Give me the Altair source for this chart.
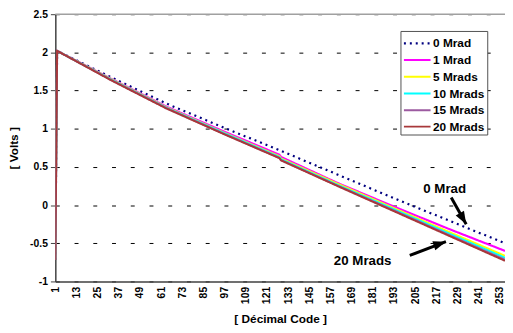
import altair as alt
import pandas as pd

FONT = "Arial, Liberation Sans, sans-serif"

codes = [1, 2, 33, 64, 65, 97, 128, 129, 161, 193, 225, 256]
series_names = ["0 Mrad", "1 Mrad", "5 Mrads", "10 Mrads", "15 Mrads", "20 Mrads"]
v0 = [-0.72, 2.02, 1.67, 1.33, 1.32, 1.01, 0.72, 0.71, 0.40, 0.09, -0.21, -0.50]
v1 = [-0.72, 2.02, 1.65, 1.29, 1.28, 0.96, 0.66, 0.63, 0.29, -0.02, -0.32, -0.60]
v5 = [-0.72, 2.02, 1.645, 1.28, 1.27, 0.945, 0.64, 0.61, 0.28, -0.04, -0.36, -0.665]
v10 = [-0.72, 2.02, 1.64, 1.275, 1.265, 0.94, 0.63, 0.60, 0.265, -0.055, -0.38, -0.69]
v15 = [-0.72, 2.02, 1.635, 1.27, 1.26, 0.93, 0.62, 0.59, 0.255, -0.07, -0.40, -0.715]
v20 = [-0.72, 2.02, 1.63, 1.265, 1.255, 0.925, 0.615, 0.585, 0.25, -0.08, -0.41, -0.73]
values = [v0, v1, v5, v10, v15, v20]

x_ticks = list(range(1, 254, 12))
y_ticks = [-1, -0.5, 0, 0.5, 1, 1.5, 2, 2.5]

# annotations
ann_text = ["0 Mrad", "20 Mrads"]
ann_x = [221.8, 175.3]
ann_y = [0.21, -0.73]
arrow_x = [225.5, 202.0]
arrow_y = [0.10, -0.66]
arrow_x2 = [234.0, 222.5]
arrow_y2 = [-0.25, -0.48]
arrow_angle = [150, 72]

colors = ["#000080", "#ff00ff", "#ffff00", "#00ffff", "#9c5aa0", "#a8383a"]
dashes = [[2, 4], [1, 0], [1, 0], [1, 0], [1, 0], [1, 0]]
widths = [2.2, 2.0, 1.2, 1.2, 1.2, 1.2]

rows = []
for s, vals in zip(series_names, values):
    for c, v in zip(codes, vals):
        rows.append({"series": s, "code": c, "volts": v, "order": series_names.index(s)})
df = pd.DataFrame(rows)

xscale = alt.Scale(domain=[1, 256], nice=False, zero=False)
yscale = alt.Scale(domain=[-1, 2.5], nice=False, zero=False)

x_axis = alt.Axis(
    values=x_ticks,
    title="[ Décimal Code ]",
    labelAngle=-90,
    labelAlign="right",
    labelBaseline="middle",
    labelOverlap=False,
    labelBound=False,
    labelFlush=False,
    ticks=False,
    grid=False,
    labelPadding=5,
    titlePadding=10,
    domainColor="#404040",
    domainWidth=1.5,
)
y_axis = alt.Axis(
    values=y_ticks,
    title="[ Volts ]",
    labelExpr="'' + datum.value",
    labelOverlap=False,
    labelBound=False,
    labelFlush=False,
    grid=True,
    gridDash=[4, 15],
    gridColor="#000000",
    gridWidth=1,
    tickSize=5,
    tickColor="#404040",
    labelPadding=3,
    titlePadding=9,
    domainColor="#404040",
    domainWidth=1.5,
)


def X(field):
    return alt.X(field, scale=xscale, axis=x_axis)


def Y(field):
    return alt.Y(field, scale=yscale, axis=y_axis)


top_border = alt.Chart(pd.DataFrame({"y": [2.5]})).mark_rule(
    color="#a0a0a0", strokeWidth=1.5
).encode(y=Y("y:Q"))

lines = alt.Chart(df).mark_line(clip=True).encode(
    x=X("code:Q"),
    y=Y("volts:Q"),
    color=alt.Color(
        "series:N",
        scale=alt.Scale(domain=series_names, range=colors),
        legend=alt.Legend(
            orient="none",
            legendX=350,
            legendY=17,
            title=None,
            symbolType="M-1,0 L2,0",
            symbolSize=324,
            symbolFillColor="transparent",
            labelFont=FONT,
            labelFontSize=12,
            labelFontWeight="bold",
            labelColor="#000000",
            fillColor="white",
            strokeColor="#505050",
            padding=2,
            rowPadding=0,
            labelOffset=10,
        ),
    ),
    strokeDash=alt.StrokeDash(
        "series:N", scale=alt.Scale(domain=series_names, range=dashes), legend=None
    ),
    strokeWidth=alt.StrokeWidth(
        "series:N", scale=alt.Scale(domain=series_names, range=widths), legend=None
    ),
    detail="series:N",
    order="order:Q",
)

ann_df = pd.DataFrame({"t": ann_text, "x": ann_x, "y": ann_y})
arr_df = pd.DataFrame(
    {"x": arrow_x, "y": arrow_y, "x2": arrow_x2, "y2": arrow_y2, "a": arrow_angle}
)

texts = alt.Chart(ann_df).mark_text(
    font=FONT, fontSize=13.5, fontWeight="bold", color="black"
).encode(x=X("x:Q"), y=Y("y:Q"), text="t:N")

shafts = alt.Chart(arr_df).mark_rule(color="black", strokeWidth=3).encode(
    x=X("x:Q"), y=Y("y:Q"), x2="x2:Q", y2="y2:Q"
)

heads = alt.Chart(arr_df).mark_point(
    shape="M0,0 L-0.6,1.6 L0.6,1.6 Z", filled=True, color="black", size=260, opacity=1
).encode(x=X("x2:Q"), y=Y("y2:Q"), angle=alt.Angle("a:Q", scale=None))

chart = (
    alt.layer(lines, top_border, shafts, heads, texts)
    .properties(
        width=456,
        height=271,
        autosize=alt.AutoSizeParams(type="none"),
        padding={"left": 48, "top": 4, "right": 0, "bottom": 50},
        background="white",
    )
    .configure_view(stroke=None)
    .configure_axis(
        labelFont=FONT,
        labelFontSize=10.5,
        labelFontWeight="bold",
        labelColor="#000000",
        labelOverlap=False,
        titleFont=FONT,
        titleFontSize=12,
        titleFontWeight="bold",
        titleColor="#000000",
    )
)

chart.save("out.html", embed_options={"renderer": "svg", "actions": False})
